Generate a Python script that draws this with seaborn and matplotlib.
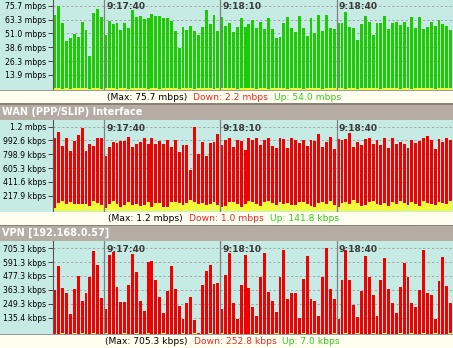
import matplotlib
matplotlib.use("Agg")
import numpy as np
import matplotlib.pyplot as plt
from matplotlib.patches import Rectangle
from matplotlib.text import Annotation
import seaborn as sns

# one bar per second, starting at 9:17:27
seconds = list(range(103))
time_marks = [13, 43, 73]
time_labels = ["9:17:40", "9:18:10", "9:18:40"]

# ---- total traffic (mbps) ----
total_up = [
    67.4, 75.7, 60.5, 44.5, 46.6, 50.4, 47.4, 60.8, 54.0, 31.1,
    69.5, 72.4, 65.3, 49.5, 62.3, 59.3, 60.5, 54.0, 59.9, 55.5,
    71.5, 65.3, 66.8, 63.8, 65.0, 68.3, 66.5, 66.5, 64.4, 64.4,
    62.3, 53.1, 38.2, 57.0, 54.0, 57.6, 53.4, 49.5, 57.0, 71.8,
    59.3, 67.4, 53.1, 65.9, 57.6, 59.9, 52.5, 57.0, 64.4, 56.4,
    59.0, 62.9, 56.1, 61.4, 54.6, 64.4, 54.6, 47.1, 48.0, 59.9,
    65.3, 55.5, 51.9, 66.5, 55.5, 48.6, 64.4, 51.0, 67.4, 53.1,
    67.4, 55.5, 54.6, 59.9, 59.9, 70.3, 57.0, 55.5, 45.1, 59.3,
    66.8, 61.4, 49.5, 60.5, 60.5, 66.8, 54.6, 59.9, 61.4, 58.5,
    61.1, 57.0, 65.3, 55.5, 65.3, 54.6, 57.0, 61.1, 57.6, 62.9,
    59.3, 58.0, 54.0,
]
total_down = [
    2.0, 2.4, 1.8, 2.1, 1.6, 2.2, 1.9, 2.5, 2.0, 1.7,
    2.3, 2.1, 1.8, 2.6, 1.9, 2.2, 1.7, 2.4, 2.0, 1.8,
    2.3, 1.9, 2.1, 2.5, 1.8, 2.2, 2.0, 1.7, 2.4, 2.1,
    1.9, 2.3, 1.6, 2.2, 2.0, 2.5, 1.8, 2.1, 1.9, 2.4,
    2.2, 1.7, 2.0, 2.3, 1.9, 2.1, 2.6, 1.8, 2.0, 2.2,
    1.9, 2.4, 1.7, 2.1, 2.3, 1.8, 2.0, 2.5, 1.9, 2.2,
    1.8, 2.1, 2.4, 2.0, 1.7, 2.3, 1.9, 2.2, 2.5, 1.8,
    2.0, 2.1, 1.9, 2.4, 2.2, 1.7, 2.0, 2.3, 1.8, 2.1,
    2.6, 1.9, 2.0, 2.2, 1.8, 2.4, 2.1, 1.9, 2.3, 1.7,
    2.0, 2.5, 1.8, 2.2, 2.0, 1.9, 2.4, 2.1, 1.8, 2.3,
    2.0, 1.9, 2.2,
]
total_ticks = [75.7, 63.3, 51.0, 38.6, 26.3, 13.9]
total_tick_labels = ["75.7 mbps", "63.3 mbps", "51.0 mbps",
                     "38.6 mbps", "26.3 mbps", "13.9 mbps"]

# ---- WAN (PPP/SLIP) interface (kbps) ----
wan_down = [
    1021, 1114, 918, 1021, 843, 983, 1067, 1161, 843, 937,
    918, 1030, 1021, 778, 904, 965, 951, 983, 983, 1044,
    904, 937, 974, 1021, 937, 1030, 937, 983, 937, 997,
    904, 997, 834, 927, 927, 577, 1186.3, 797, 974, 774,
    951, 974, 1077, 927, 997, 1030, 904, 997, 983, 857,
    1021, 997, 1021, 927, 997, 1030, 918, 890, 1030, 1011,
    890, 1021, 997, 964, 997, 918, 997, 983, 1077, 904,
    974, 1044, 871, 1011, 997, 1011, 1091, 904, 974, 927,
    1011, 1021, 937, 997, 927, 1030, 890, 1021, 937, 974,
    950, 890, 997, 964, 983, 1021, 1058, 997, 871, 1011,
    974, 1021, 1000,
]
wan_up = [
    50, 110, 143, 96, 134, 96, 96, 96, 96, 78,
    143, 110, 87, 40, 96, 143, 96, 64, 87, 124,
    87, 96, 78, 87, 124, 64, 110, 110, 64, 64,
    124, 124, 110, 87, 110, 157, 124, 96, 110, 87,
    96, 134, 87, 64, 78, 124, 124, 96, 64, 96,
    143, 124, 96, 78, 124, 143, 110, 87, 124, 96,
    110, 87, 87, 124, 134, 96, 78, 64, 110, 124,
    96, 143, 87, 64, 110, 124, 96, 157, 110, 78,
    87, 124, 143, 96, 87, 110, 78, 124, 96, 143,
    110, 87, 124, 96, 78, 143, 110, 96, 87, 124,
    110, 96, 141.8,
]
wan_ticks = [1186.3, 992.6, 798.9, 605.3, 411.6, 217.9]
wan_tick_labels = ["1.2 mbps", "992.6 kbps", "798.9 kbps",
                   "605.3 kbps", "411.6 kbps", "217.9 kbps"]

# ---- VPN [192.168.0.57] (kbps) ----
vpn_down = [
    360.7, 561.5, 374.2, 333.5, 162.5, 366.1, 474.6, 271.1, 333.5, 469.2,
    678.2, 569.6, 298.2, 208.7, 651.1, 670.1, 387.8, 263.0, 263.0, 401.4,
    659.2, 507.2, 271.1, 187.0, 594.1, 596.8, 447.5, 306.4, 170.7, 352.5,
    561.5, 371.5, 230.4, 121.8, 252.1, 306.4, 113.7, 10.0, 398.7, 515.4,
    569.6, 412.2, 420.4, 208.7, 488.2, 664.6, 257.5, 127.3, 398.7, 651.1,
    379.7, 225.0, 149.0, 469.2, 664.6, 344.4, 271.1, 181.5, 469.2, 691.8,
    284.7, 333.5, 333.5, 135.4, 453.0, 637.5, 284.7, 271.1, 149.0, 469.2,
    705.3, 366.1, 284.7, 127.3, 447.5, 691.8, 447.5, 235.8, 143.5, 352.5,
    637.5, 469.2, 317.2, 149.0, 447.5, 624.0, 371.5, 252.1, 170.7, 387.8,
    583.2, 469.2, 257.5, 225.0, 358.0, 691.8, 333.5, 317.2, 121.8, 434.0,
    632.0, 393.2, 252.8,
]
vpn_up = [
    3, 0, 8, 2, 0, 5, 0, 10, 0, 2,
    6, 0, 3, 9, 0, 4, 0, 2, 8, 0,
    0, 5, 2, 0, 7, 0, 3, 0, 9, 1,
    0, 4, 0, 6, 2, 0, 8, 0, 3, 0,
    5, 0, 2, 10, 0, 3, 7, 0, 2, 0,
    4, 0, 9, 0, 3, 1, 0, 6, 0, 2,
    0, 8, 3, 0, 5, 0, 2, 9, 0, 4,
    0, 3, 7, 0, 2, 6, 0, 1, 8, 0,
    3, 0, 5, 2, 0, 9, 0, 4, 0, 6,
    2, 0, 8, 0, 3, 5, 0, 2, 7, 0,
    4, 0, 7.0,
]
vpn_ticks = [705.3, 591.3, 477.3, 363.3, 249.3, 135.4]
vpn_tick_labels = ["705.3 kbps", "591.3 kbps", "477.3 kbps",
                   "363.3 kbps", "249.3 kbps", "135.4 kbps"]

status_texts = [
    ["(Max: 75.7 mbps)", "Down: 2.2 mbps", "Up: 54.0 mbps"],
    ["(Max: 1.2 mbps)", "Down: 1.0 mbps", "Up: 141.8 kbps"],
    ["(Max: 705.3 kbps)", "Down: 252.8 kbps", "Up: 7.0 kbps"],
]
headers = [None, "WAN (PPP/SLIP) Interface", "VPN [192.168.0.57]"]

# ---- styling ----
sns.set_theme(style="white")
plt.rcParams["font.family"] = ["DejaVu Sans"]

BG = "#c6ebe5"
CREAM = "#fffff0"
HEADER = "#b5aca4"
RED = "#f20000"
GREEN = "#1ccc00"
YELLOW = "#ffff00"
W, H = 453, 348


def fy(px):
    return 1 - px / H


fig = plt.figure(figsize=(W / 100, H / 100), dpi=100, facecolor=BG)

# panel geometry in pixels: plot top, plot bottom, status bottom, ylim
layout = [
    dict(top=-2.5, bottom=90.0, status_end=103.5, ylim=(0.5, 83.0), stat_x=107),
    dict(top=119.5, bottom=211.5, status_end=224.5, ylim=(-3.0, 1287.0), stat_x=108),
    dict(top=240.5, bottom=334.0, status_end=348.0, ylim=(0.0, 768.0), stat_x=105),
]
series = [
    (total_down, total_up, total_ticks, total_tick_labels),
    (wan_down, wan_up, wan_ticks, wan_tick_labels),
    (vpn_down, vpn_up, vpn_ticks, vpn_tick_labels),
]


def band(y0, y1, color, z=1):
    fig.add_artist(Rectangle((0, fy(y1)), 1, (y1 - y0) / H,
                             transform=fig.transFigure, facecolor=color,
                             edgecolor="none", zorder=z))


for i, (geo, (down, up, ticks, tlabels)) in enumerate(zip(layout, series)):
    ax = fig.add_axes([53 / W, fy(geo["bottom"]), 400 / W,
                       (geo["bottom"] - geo["top"]) / H])
    ax.set_facecolor(BG)

    overlap = np.minimum(down, up)
    for vals, col in ((down, RED), (up, GREEN), (overlap, YELLOW)):
        sns.barplot(x=seconds, y=vals, color=col, width=0.75, saturation=1,
                    linewidth=0, errorbar=None, ax=ax, zorder=2)

    ax.set_xlim(-0.5, 102.6)
    ax.set_ylim(*geo["ylim"])
    ax.set_xticks([])
    ax.set_xlabel("")
    ax.set_ylabel("")
    ax.set_yticks(ticks, tlabels)
    ax.tick_params(axis="y", left=True, length=3.6, width=0.7,
                   color="#404040", labelsize=5.6, pad=1.2,
                   labelcolor="black")
    ax.set_axisbelow(True)
    ax.yaxis.grid(True, color="#a3a9a8", linestyle=(0, (2.2, 2.2)),
                  linewidth=0.72, zorder=0)
    for side in ("top", "right", "bottom"):
        ax.spines[side].set_visible(False)
    ax.spines["left"].set_color("#555555")
    ax.spines["left"].set_linewidth(0.8)

    for k, lab in zip(time_marks, time_labels):
        xline = k - 0.375
        ax.axvline(xline, color="#808080", lw=0.9, zorder=3)
        ax.annotate(lab, xy=(xline, 1), xycoords=ax.get_xaxis_transform(),
                    xytext=(1.6, -3.3), textcoords="offset points",
                    ha="left", va="top", fontsize=6.6, fontweight="bold",
                    color="#3a3a3a", zorder=5)

    # status strip under the plot: max, current down, current up
    band(geo["bottom"], geo["bottom"] + 0.9, "#9a9a9a", 1)
    band(geo["bottom"] + 0.9, geo["status_end"], CREAM, 1)
    ymid = (geo["bottom"] + geo["status_end"]) / 2 + 0.6
    parts = status_texts[i]
    colors = ["black", "#f02828", "#33cc22"]
    t = fig.text(geo["stat_x"] / W, fy(ymid), parts[0], color=colors[0],
                 fontsize=6.6, ha="left", va="center", zorder=4)
    for s, c in zip(parts[1:], colors[1:]):
        nxt = Annotation(s, xy=(1, 0.5), xycoords=t, xytext=(4.4, 0),
                         textcoords="offset points", ha="left", va="center",
                         color=c, fontsize=6.6, annotation_clip=False)
        nxt.set_clip_on(False)
        nxt.set_zorder(4)
        fig.add_artist(nxt)
        t = nxt

# header bars above the second and third panels
for i, name in enumerate(headers):
    if name is None:
        continue
    y0 = layout[i - 1]["status_end"]
    y1 = layout[i]["top"]
    band(y0, y0 + 1.0, "#8a8178", 1)
    band(y0 + 1.0, y1, HEADER, 1)
    fig.text(2 / W, fy((y0 + y1) / 2 + 0.7), name, color="white",
             fontsize=7, fontweight="bold", ha="left", va="center", zorder=4)

fig.savefig("out.png", dpi=100, facecolor=BG)
